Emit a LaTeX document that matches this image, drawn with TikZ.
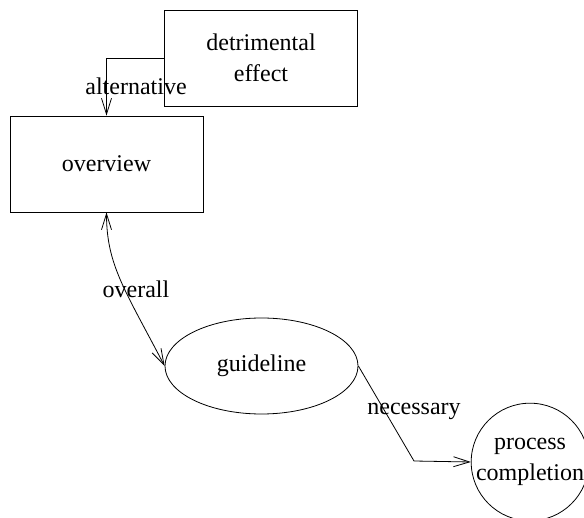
\documentclass[tikz,border=0pt]{standalone}
\usepackage{fontspec}
\setmainfont{Liberation Serif}
\usetikzlibrary{arrows.meta,shapes.geometric}
\begin{document}
\begin{tikzpicture}[x=1pt,y=-1pt,
  every node/.style={font=\fontsize{24}{31}\selectfont},
  box/.style={draw, line width=0.8pt, minimum width=193pt, minimum height=96pt, align=center, inner sep=0pt},
  oval/.style={draw, line width=0.8pt, ellipse, minimum width=193pt, minimum height=96pt, inner sep=0pt},
  round/.style={draw, line width=0.8pt, circle, minimum size=114pt, inner sep=0pt, align=center},
  lbl/.style={inner sep=0pt},
  tip/.tip={Straight Barb[length=16pt,width=10pt,line width=0.8pt]},
  conn/.style={-tip, line width=0.8pt}]
\useasboundingbox (0,0) rectangle (584,518);
\node[box] (det) at (261,58) {detrimental\\effect};
\node[box] (ov) at (106.5,164) {overview};
\node[oval] (gl) at (261.5,366) {guideline};
\node[round] (pc) at (530,462) {process\\completion};
\coordinate (bend) at (414,461);
\draw[conn] (det.west) -| (ov.north);
\draw[conn, tip-tip] (ov.south) .. controls (106.5,265) and (125,290) .. (gl.west);
\draw[conn] (gl.east) -- (bend) -- (pc.west);
\node[lbl] (lalt) at (136,86) {alternative};
\node[lbl] (lovr) at (136,289) {overall};
\node[lbl] (lnec) at (414,411) {necessary};
\end{tikzpicture}
\end{document}
